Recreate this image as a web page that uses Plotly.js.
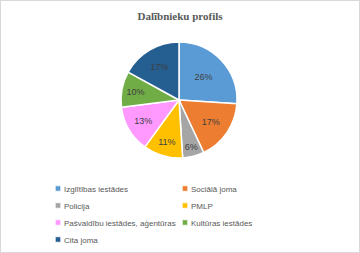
<!DOCTYPE html>
<html><head><meta charset="utf-8">
<script src="https://cdn.plot.ly/plotly-3.0.1.min.js"></script>
<style>
html,body{margin:0;padding:0;background:#fff;}
#chart{width:358px;height:251px;border:1px solid #D9D9D9;}
path.legendpie{transform:translate(34px,0) scale(0.45);}
</style></head>
<body><div id="chart"></div>
<script>
const categories = ["Izglītības iestādes","Sociālā joma","Policija","PMLP","Pašvaldību iestādes, aģentūras","Kultūras iestādes","Cita joma"];
const values = [26,17,6,11,13,10,17];
const colors = ["#5B9BD5","#ED7D31","#A5A5A5","#FFC000","#FF99FF","#70AD47","#255E91"];

const trace = {
  type:'pie', labels:categories, values:values, sort:false, direction:'clockwise', rotation:0,
  marker:{colors:colors, line:{color:'#FFFFFF', width:1.5}},
  texttemplate:'%{percent:.0%}', textposition:'inside', insidetextorientation:'horizontal',
  textfont:{family:'Liberation Sans, Arial, sans-serif', size:9, color:'#404040'},
  hoverinfo:'none',
  domain:{x:[120/358,236/358], y:[(251-157)/251,(251-41)/251]}
};
const layout = {
  width:358, height:251, margin:{l:0,r:0,t:0,b:0, autoexpand:false},
  paper_bgcolor:'#FFFFFF',
  title:{text:'<b>Dalībnieku profils</b>', x:0.5, xanchor:'center', y:1-15/251, yanchor:'middle', yref:'container',
    font:{family:'Liberation Serif, Times New Roman, serif', size:11, color:'#595959'}},
  showlegend:true,
  legend:{orientation:'h', x:23/358, xanchor:'left', y:(251-173)/251, yanchor:'top',
    entrywidth:82, entrywidthmode:'pixels', traceorder:'normal',
    font:{family:'Liberation Sans, Arial, sans-serif', size:8, color:'#595959'}}
};
Plotly.newPlot('chart',[trace],layout,{displayModeBar:false, staticPlot:true}).then(function(gd){
  // tighten legend row spacing to match the reference (17px rows)
  const items = gd.querySelectorAll('.legend .traces');
  let y0 = null;
  items.forEach(function(el){
    const m = /translate\(\s*([-\d.]+)[ ,]+([-\d.]+)\s*\)/.exec(el.getAttribute('transform')||'');
    if(!m) return;
    const x = parseFloat(m[1]), y = parseFloat(m[2]);
    if(y0 === null) y0 = y;
    el.setAttribute('transform','translate('+x+','+(y0+(y-y0)*17/19)+')');
  });
});
</script></body></html>
